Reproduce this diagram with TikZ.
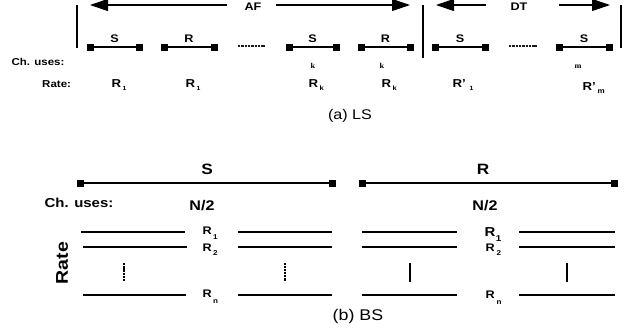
\documentclass[tikz,border=0pt]{standalone}
\usepackage{fontspec}
\setmainfont{Liberation Sans}[FakeStretch=1.15]
\newfontfamily\idxfont{Liberation Serif}[FakeStretch=1.1]
\usetikzlibrary{arrows.meta}

\newcommand{\fs}[1]{\fontsize{#1}{#1}\selectfont}
% lowered index: size, drop, gap, text
\newcommand{\ix}[4]{\kern#3\raisebox{-#2}{\fs{#1}#4}}

\begin{document}
\begin{tikzpicture}[x=1pt,y=-1pt,
  every node/.style={inner sep=0pt,outer sep=0pt},
  sq/.style={fill=black,minimum size=7pt},
  seg/.style={line width=1.1pt},
  bseg/.style={line width=1.3pt},
  bar/.style={line width=1.4pt},
  span/.style={line width=1.1pt,-{Triangle[length=18pt,width=12pt]}},
  gap/.style={line width=2.8pt,dash pattern=on 2.4pt off 0.9pt,black!90},
  toplbl/.style={font=\bfseries\fs{11},anchor=base},
  rt/.style={font=\bfseries\fs{11.5},anchor=base west},
  small/.style={font=\idxfont\bfseries\fs{7.5},anchor=base},
  blbl/.style={font=\bfseries\fs{15},anchor=base},
  rl/.style={line width=1.3pt},
  vdots/.style={line width=2.8pt,dash pattern=on 2.4pt off 0.8pt},
  vbar/.style={line width=2.8pt}]
\useasboundingbox (0,0) rectangle (642,333);

% ---------- (a) LS ----------
% frame bars
\coordinate (b1t) at (77,5);   \coordinate (b1b) at (77,48);
\coordinate (b2t) at (423,5);  \coordinate (b2b) at (423,58);
\coordinate (b3t) at (621,5);  \coordinate (b3b) at (621,48);
\draw[bar] (b1t) -- (b1b);
\draw[bar] (b2t) -- (b2b);
\draw[bar] (b3t) -- (b3b);

% AF span
\node[font=\bfseries\fs{11},anchor=base] (af) at (253,10) {AF};
\coordinate (afl0) at (227,5); \coordinate (afl1) at (90,5);
\coordinate (afr0) at (276,5); \coordinate (afr1) at (410,5);
\draw[span] (afl0) -- (afl1);
\draw[span] (afr0) -- (afr1);

% DT span
\node[font=\bfseries\fs{11},anchor=base] (dt) at (519,10) {DT};
\coordinate (dtl0) at (486,5); \coordinate (dtl1) at (436,5);
\coordinate (dtr0) at (559,5); \coordinate (dtr1) at (610,5);
\draw[span] (dtl0) -- (dtl1);
\draw[span] (dtr0) -- (dtr1);

% slots
\coordinate (p1a) at (90.5,47); \coordinate (p1b) at (139,47);
\coordinate (p2a) at (164,47);  \coordinate (p2b) at (214,47);
\coordinate (p4a) at (289,47);  \coordinate (p4b) at (336,47);
\coordinate (p5a) at (361,47);  \coordinate (p5b) at (410,47);
\coordinate (p6a) at (435,47);  \coordinate (p6b) at (485,47);
\coordinate (p8a) at (559.5,47);\coordinate (p8b) at (609.5,47);
\foreach \s in {1,2,4,5,6,8}{
  \draw[seg] (p\s a) -- (p\s b);
  \node[sq] (q\s a) at (p\s a) {};
  \node[sq] (q\s b) at (p\s b) {};
}
\coordinate (g1a) at (238,46); \coordinate (g1b) at (265,46);
\coordinate (g2a) at (509,46); \coordinate (g2b) at (537,46);
\draw[gap] (g1a) -- (g1b);
\draw[gap] (g2a) -- (g2b);

\node[toplbl] (l1) at (114.5,42) {S};
\node[toplbl] (l2) at (189,42) {R};
\node[toplbl] (l4) at (312.5,42) {S};
\node[toplbl] (l5) at (385.5,42) {R};
\node[toplbl] (l6) at (460,42) {S};
\node[toplbl] (l8) at (584,42) {S};

% row headings
\node[font=\bfseries\fs{10},anchor=base] (chu) at (38,65) {Ch. uses:};
\node[font=\bfseries\fs{10},anchor=base east] (rate) at (71,87) {Rate:};

% channel-use indices
\node[small] (k1) at (313,68) {k};
\node[small] (k2) at (382,68) {k};
\node[small] (m1) at (578,68) {m};

% rates
\node[rt] (r1) at (111.5,87) {R\ix{6}{3.5pt}{1.5pt}{1}};
\node[rt] (r2) at (185.5,87) {R\ix{6}{3.5pt}{1.5pt}{1}};
\node[rt] (r3) at (308.5,87) {R\ix{6.5}{3.5pt}{1.5pt}{k}};
\node[rt] (r4) at (381.5,87) {R\ix{6.5}{3.5pt}{1.5pt}{k}};
\node[rt] (r5) at (452.5,87) {R'\ix{6}{3.5pt}{4pt}{1}};
\node[rt] (r6) at (582.5,90) {R'\ix{7}{3.5pt}{2pt}{m}};

\node[font=\fs{14},anchor=base] (capa) at (350,119) {(a) LS};

% ---------- (b) BS ----------
\coordinate (sa) at (80,183);  \coordinate (sb) at (332,183);
\coordinate (ra) at (362,183); \coordinate (rb) at (614,183);
\draw[bseg] (sa) -- (sb);
\draw[bseg] (ra) -- (rb);
\node[sq] (sqa) at (sa) {};
\node[sq] (sqb) at (sb) {};
\node[sq] (rqa) at (ra) {};
\node[sq] (rqb) at (rb) {};
\node[blbl] (bs) at (207,174.5) {S};
\node[blbl] (br) at (483,174.5) {R};

\node[font=\bfseries\fs{13},anchor=base] (bchu) at (79,207) {Ch. uses:};
\node[font=\bfseries\fs{14},anchor=base] (n1) at (202,210) {N/2};
\node[font=\bfseries\fs{14},anchor=base] (n2) at (485,210) {N/2};

\node[font=\bfseries\fs{17},rotate=90] (brate) at (62,263) {Rate};

% rate levels, sending half
\draw[rl] (81,232) -- (185,232);
\draw[rl] (83,247) -- (187,247);
\draw[rl] (83,295) -- (186,295);
\draw[line width=2pt] (176,232) -- (185,232);
\draw[line width=2pt] (177,247) -- (187,247);
\draw[line width=2pt] (176,295) -- (186,295);
\draw[rl] (238,232) -- (332,232);
\draw[rl] (238,247) -- (332,247);
\draw[rl] (238,295) -- (332,295);
\draw[vdots] (124,263) -- (124,281);
\draw[vdots,dash pattern=on 2pt off 0.9pt] (285,263) -- (285,281);

% rate levels, relaying half
\draw[rl] (362,232) -- (457,232);
\draw[rl] (362,247) -- (457,247);
\draw[rl] (362,295) -- (457,295);
\draw[rl] (519,232) -- (615,232);
\draw[rl] (519,247) -- (615,247);
\draw[rl] (519,295) -- (615,295);
\draw[vbar] (410,263) -- (410,282);
\draw[vbar] (567,263) -- (567,282);

% level labels
\node[font=\bfseries\fs{11},anchor=base west] (lr1) at (202.5,234) {R\ix{7}{5.5pt}{1.5pt}{1}};
\node[font=\bfseries\fs{11},anchor=base west] (lr2) at (202.5,251) {R\ix{7}{4pt}{1.5pt}{2}};
\node[font=\bfseries\fs{11},anchor=base west] (lrn) at (202.5,297) {R\ix{7}{6pt}{1.5pt}{n}};
\node[font=\bfseries\fs{13},anchor=base west] (rr1) at (484.5,236) {R\ix{8.5}{5pt}{0.5pt}{1}};
\node[font=\bfseries\fs{11},anchor=base west] (rr2) at (485.5,251) {R\ix{7}{4pt}{2pt}{2}};
\node[font=\bfseries\fs{11},anchor=base west] (rrn) at (485.5,298) {R\ix{7}{6pt}{2pt}{n}};

\node[font=\fs{15.5},anchor=base] (capb) at (358,320) {(b) BS};
\end{tikzpicture}
\end{document}
